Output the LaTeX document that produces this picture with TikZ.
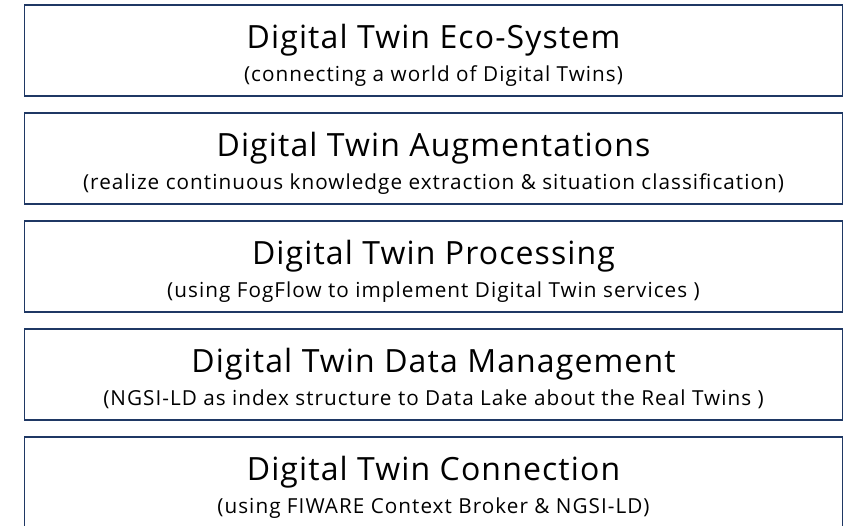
\documentclass[tikz,border=0pt]{standalone}
\usepackage{fontspec}
\setmainfont{Open Sans}
\usetikzlibrary{calc}
\definecolor{layerblue}{RGB}{31,56,100}
\begin{document}
\begin{tikzpicture}[x=1pt,y=-1pt,
    layer/.style={draw=layerblue, line width=1.5pt, minimum width=818pt, minimum height=91pt, inner sep=0pt},
    title/.style={anchor=base, inner sep=0pt, font=\fontsize{32}{38}\selectfont\addfontfeature{LetterSpace=3.5}},
    sub/.style={anchor=base, inner sep=0pt, font=\fontsize{20.7}{25}\selectfont\addfontfeature{LetterSpace=5}}]
    \useasboundingbox (0,0) rectangle (851,525);
    \draw node at (433.5,50.5)[name=eco,layer]{};
    \draw node at (433.5,158.5)[name=aug,layer]{};
    \draw node at (433.5,266.5)[name=proc,layer]{};
    \draw node at (433.5,374.5)[name=data,layer]{};
    \draw node at (433.5,482.5)[name=conn,layer]{};

    \draw node at ($(eco.north)+(0,44)$)[name=ecoT,title]{Digital Twin Eco-System};
    \draw node at ($(eco.north)+(0,77)$)[name=ecoS,sub]{(connecting a world of Digital Twins)};
    \draw node at ($(aug.north)+(0,44)$)[name=augT,title]{Digital Twin Augmentations};
    \draw node at ($(aug.north)+(0,77)$)[name=augS,sub]{(realize continuous knowledge extraction \& situation classification)};
    \draw node at ($(proc.north)+(0,44)$)[name=procT,title]{Digital Twin Processing};
    \draw node at ($(proc.north)+(0,77)$)[name=procS,sub]{(using FogFlow to implement Digital Twin services )};
    \draw node at ($(data.north)+(0,44)$)[name=dataT,title]{Digital Twin Data Management};
    \draw node at ($(data.north)+(0,77)$)[name=dataS,sub]{(NGSI-LD as index structure to Data Lake about the Real Twins )};
    \draw node at ($(conn.north)+(0,44)$)[name=connT,title]{Digital Twin Connection};
    \draw node at ($(conn.north)+(0,77)$)[name=connS,sub]{(using FIWARE Context Broker \& NGSI-LD)};
\end{tikzpicture}
\end{document}
